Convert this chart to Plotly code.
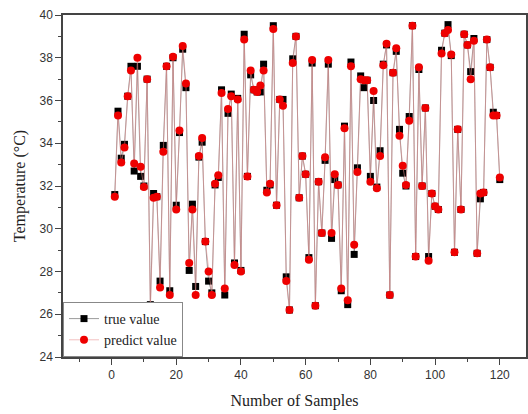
import plotly.graph_objects as go

samples = list(range(1, 121))
true_value = [
    31.6, 35.5, 33.3, 33.95, 36.2, 37.6, 32.7, 37.6, 32.45, 32.0,
    37.0, 26.45, 31.65, 31.5, 27.55, 33.9, 37.6, 27.1, 38.0, 31.1,
    34.5, 38.4, 36.6, 28.05, 31.15, 27.3, 33.35, 34.05, 29.4, 27.55,
    27.0, 32.05, 32.4, 36.5, 26.9, 35.4, 36.3, 28.4, 36.1, 28.05,
    39.1, 32.45, 37.2, 36.5, 36.4, 36.4, 37.7, 31.8, 32.05, 39.5,
    31.1, 36.05, 36.05, 27.75, 26.2, 37.95, 39.0, 31.45, 33.4, 32.55,
    28.65, 37.75, 26.4, 32.2, 29.8, 33.2, 37.7, 29.55, 32.3, 32.05,
    27.1, 34.8, 26.45, 37.8, 28.8, 32.85, 37.15, 36.6, 36.95, 32.45,
    36.0, 31.95, 33.65, 37.7, 38.6, 26.9, 37.3, 38.3, 34.65, 32.6,
    32.0, 35.25, 39.5, 28.7, 37.45, 32.0, 35.65, 28.7, 31.65, 31.05,
    30.9, 38.35, 39.15, 39.55, 38.1, 28.9, 34.65, 30.9, 39.1, 38.6,
    37.35, 38.9, 28.85, 31.4, 31.7, 38.85, 37.55, 35.45, 35.3, 32.3,
]
predict_value = [
    31.5, 35.3, 33.1, 33.8, 36.2, 37.4, 33.05, 38.0, 32.9, 31.95,
    37.0, 26.2, 31.45, 31.5, 27.25, 33.6, 37.6, 26.9, 38.05, 30.9,
    34.6, 38.55, 36.8, 28.4, 30.9, 26.9, 33.4, 34.25, 29.4, 28.0,
    26.9, 32.1, 32.5, 36.35, 27.2, 35.6, 36.2, 28.3, 36.05, 28.0,
    38.85, 32.45, 37.4, 36.5, 36.4, 36.7, 37.4, 31.7, 32.1, 39.35,
    31.1, 36.05, 35.75, 27.55, 26.2, 37.75, 39.0, 31.45, 33.4, 32.55,
    28.55, 37.9, 26.4, 32.2, 29.8, 33.35, 37.9, 29.8, 32.55, 32.05,
    27.2, 34.7, 26.65, 37.6, 29.25, 32.65, 37.0, 36.95, 36.95, 32.2,
    36.45, 31.9, 33.4, 37.65, 38.65, 26.9, 37.3, 38.45, 34.35, 32.95,
    32.05, 35.05, 39.5, 28.7, 37.55, 32.0, 35.65, 28.5, 31.65, 31.05,
    30.9, 38.2, 39.15, 39.3, 38.15, 28.9, 34.65, 30.9, 39.1, 38.6,
    37.0, 38.8, 28.85, 31.65, 31.7, 38.85, 37.55, 35.3, 35.3, 32.4,
]
x_ticks = [0, 20, 40, 60, 80, 100, 120]
y_ticks = [24, 26, 28, 30, 32, 34, 36, 38, 40]

fig = go.Figure()
fig.add_trace(go.Scatter(
    x=samples, y=true_value, mode="lines+markers", name="true value",
    line=dict(color="#555555", width=0.6),
    marker=dict(symbol="square", size=7, color="#000000"),
))
fig.add_trace(go.Scatter(
    x=samples, y=predict_value, mode="lines+markers", name="predict value",
    line=dict(color="rgba(230,140,140,0.7)", width=0.8),
    marker=dict(symbol="circle", size=8, color="#ee0000"),
))

axis_common = dict(
    showline=True, linecolor="#444444", linewidth=1.5, mirror=True,
    showgrid=False, zeroline=False, ticks="outside", ticklen=6,
    tickcolor="#444444", tickwidth=1,
    tickfont=dict(family="Liberation Sans, Arial", size=12, color="#333333"),
)
fig.update_xaxes(
    range=[-15, 128.1], tickvals=x_ticks,
    minor=dict(ticks="outside", ticklen=3, tickcolor="#444444", dtick=10, tick0=0),
    title=dict(text="Number of Samples",
               font=dict(family="Liberation Serif, Times New Roman", size=16, color="#222222"),
               standoff=14),
    **axis_common,
)
fig.update_yaxes(
    range=[24, 40], tickvals=y_ticks,
    minor=dict(ticks="outside", ticklen=3, tickcolor="#444444", dtick=1, tick0=0),
    title=dict(text="Temperature (°C)",
               font=dict(family="Liberation Serif, Times New Roman", size=16, color="#222222"),
               standoff=10),
    **axis_common,
)
fig.update_layout(
    width=528, height=414,
    margin=dict(l=63, r=0, t=15, b=57),
    paper_bgcolor="white", plot_bgcolor="white",
    legend=dict(
        x=0, y=0, xanchor="left", yanchor="bottom",
        bgcolor="white", bordercolor="#888888", borderwidth=1,
        font=dict(family="Liberation Serif, Times New Roman", size=14, color="#222222"),
        tracegroupgap=0,
    ),
    showlegend=True,
)
fig.write_html("out.html")
